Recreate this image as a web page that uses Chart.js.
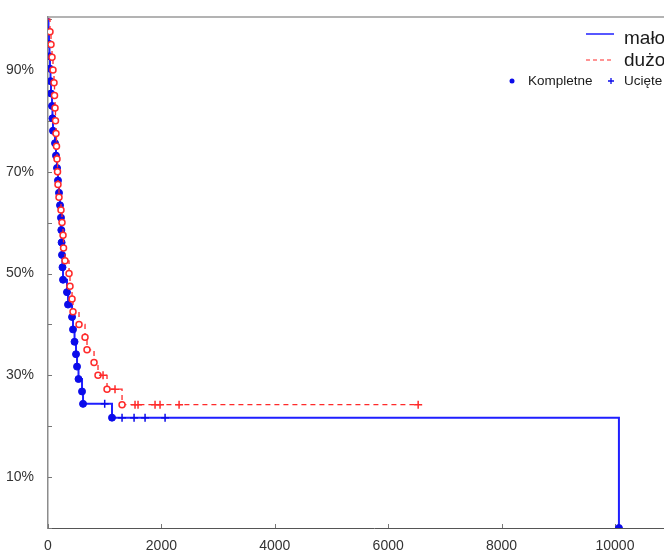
<!DOCTYPE html>
<html lang="pl">
<head>
<meta charset="utf-8">
<title>Krzywe przeżycia</title>
<script src="https://cdn.jsdelivr.net/npm/chart.js@4.4.1/dist/chart.umd.min.js"></script>
<style>
  html, body { margin: 0; padding: 0; background: #fff; overflow: hidden; }
  canvas { display: block; }
</style>
</head>
<body>
<canvas id="survChart" width="720" height="550"></canvas>
<script>
// --- Data ---
const xTicks = [0, 2000, 4000, 6000, 8000, 10000];
const yTicks = [0, 10, 20, 30, 40, 50, 60, 70, 80, 90, 100];

// kind: 0 = start of curve, 1 = complete observation, 2 = censored
const maloTime = [0, 9, 18, 26, 35, 44, 53, 71, 79, 88, 124, 141, 159, 176, 194, 212, 229, 235, 240, 247, 256,
  265, 335, 353, 424, 441, 468, 494, 512, 538, 600, 618, 1000, 1129, 1306, 1518, 1712, 2065, 10070];
const maloSurv = [100, 97.56, 95.12, 92.68, 90.24, 87.80, 85.37, 82.93, 80.49, 78.05, 75.61, 73.17, 70.73, 68.29,
  65.85, 63.41, 60.98, 58.54, 56.10, 53.66, 51.22, 48.78, 46.34, 43.90, 41.46, 39.02, 36.59, 34.15, 31.71, 29.27,
  26.83, 24.39, 24.39, 21.68, 21.68, 21.68, 21.68, 21.68, 0];
const maloKind = [0, 1, 1, 1, 1, 1, 1, 1, 1, 1, 1, 1, 1, 1, 1, 1, 1, 1, 1, 1, 1,
  1, 1, 1, 1, 1, 1, 1, 1, 1, 1, 1, 2, 1, 2, 2, 2, 2, 1];

const duzoTime = [0, 35, 53, 71, 88, 106, 115, 124, 132, 141, 150, 159, 168, 176, 194, 229, 247, 265, 274, 300,
  371, 388, 424, 441, 547, 653, 688, 812, 882, 971, 1041, 1182, 1306, 1535, 1588, 1888, 1976, 2312, 6529];
const duzoSurv = [100, 97.5, 95, 92.5, 90, 87.5, 85, 82.5, 80, 77.5, 75, 72.5, 70, 67.5, 65, 62.5, 60, 57.5, 55,
  52.5, 50, 47.5, 45, 42.5, 40, 37.5, 35, 32.5, 30, 30, 27.27, 27.27, 24.24, 24.24, 24.24, 24.24, 24.24, 24.24, 24.24];
const duzoKind = [0, 1, 1, 1, 1, 1, 1, 1, 1, 1, 1, 1, 1, 1, 1, 1, 1, 1, 1, 1,
  1, 1, 1, 1, 1, 1, 1, 1, 1, 2, 1, 2, 1, 2, 2, 2, 2, 2, 2];

const seriesNames = ['mało', 'dużo'];
const markNames = ['Kompletne', 'Ucięte'];

// --- Style ---
const FONT = "'Liberation Sans', Arial, sans-serif";
const BLUE = '#1f1fff';
const BLUE_DOT = '#0b0bea';
const RED = '#ff2a2a';

function toPoints(time, surv) {
    return time.map((t, i) => ({ x: t, y: surv[i] }));
}

// Frame: top border line and small inward tick marks
const framePlugin = {
    id: 'survFrame',
    beforeDatasetsDraw(chart) {
        const { ctx, chartArea: a, scales: { x, y } } = chart;
        ctx.save();
        ctx.strokeStyle = '#9a9a9a';
        ctx.lineWidth = 1.5;
        ctx.beginPath();
        ctx.moveTo(a.left, a.top);
        ctx.lineTo(a.right, a.top);
        ctx.stroke();

        ctx.strokeStyle = '#777';
        ctx.lineWidth = 1;
        ctx.beginPath();
        xTicks.forEach(v => {
            const px = Math.round(x.getPixelForValue(v)) + 0.5;
            ctx.moveTo(px, a.bottom);
            ctx.lineTo(px, a.bottom - 4);
        });
        yTicks.forEach(v => {
            const py = Math.round(y.getPixelForValue(v)) + 0.5;
            ctx.moveTo(a.left, py);
            ctx.lineTo(a.left + 4, py);
        });
        ctx.stroke();
        ctx.restore();
    }
};

// Legend in the upper right corner
const legendPlugin = {
    id: 'survLegend',
    afterDraw(chart) {
        const ctx = chart.ctx;
        ctx.save();

        ctx.strokeStyle = BLUE;
        ctx.lineWidth = 1.5;
        ctx.beginPath();
        ctx.moveTo(586, 34);
        ctx.lineTo(614, 34);
        ctx.stroke();

        ctx.strokeStyle = RED;
        ctx.lineWidth = 1.2;
        ctx.setLineDash([4, 3]);
        ctx.beginPath();
        ctx.moveTo(586, 60);
        ctx.lineTo(614, 60);
        ctx.stroke();
        ctx.setLineDash([]);

        ctx.fillStyle = '#1a1a1a';
        ctx.font = '19px ' + FONT;
        ctx.textBaseline = 'alphabetic';
        ctx.fillText(seriesNames[0], 624, 44);
        ctx.fillText(seriesNames[1], 624, 66);

        ctx.fillStyle = BLUE_DOT;
        ctx.beginPath();
        ctx.arc(512, 81, 2.5, 0, Math.PI * 2);
        ctx.fill();

        ctx.strokeStyle = BLUE_DOT;
        ctx.lineWidth = 1.3;
        ctx.beginPath();
        ctx.moveTo(611, 78);
        ctx.lineTo(611, 84);
        ctx.moveTo(608, 81);
        ctx.lineTo(614, 81);
        ctx.stroke();

        ctx.fillStyle = '#1a1a1a';
        ctx.font = '13.5px ' + FONT;
        ctx.textBaseline = 'middle';
        ctx.fillText(markNames[0], 528, 81);
        ctx.fillText(markNames[1], 624, 81);
        ctx.restore();
    }
};

// --- Chart ---
window.addEventListener('DOMContentLoaded', () => {
    new Chart(document.getElementById('survChart'), {
        type: 'line',
        data: {
            datasets: [
                {
                    label: seriesNames[0],
                    data: toPoints(maloTime, maloSurv),
                    order: 1,
                    stepped: true,
                    borderColor: BLUE,
                    borderWidth: 2,
                    pointStyle: maloKind.map(k => k === 2 ? 'cross' : 'circle'),
                    pointRadius: maloKind.map(k => k === 0 ? 0 : (k === 2 ? 4 : 3.5)),
                    pointBackgroundColor: BLUE_DOT,
                    pointBorderColor: BLUE_DOT,
                    pointBorderWidth: maloKind.map(k => k === 2 ? 1.5 : 1)
                },
                {
                    label: seriesNames[1],
                    data: toPoints(duzoTime, duzoSurv),
                    order: 0,
                    stepped: true,
                    borderColor: RED,
                    borderWidth: 1.3,
                    borderDash: [5, 4],
                    pointStyle: duzoKind.map(k => k === 2 ? 'cross' : 'circle'),
                    pointRadius: duzoKind.map(k => k === 0 ? 0 : (k === 2 ? 4 : 3)),
                    pointBackgroundColor: '#ffffff',
                    pointBorderColor: RED,
                    pointBorderWidth: 1.5
                }
            ]
        },
        options: {
            responsive: false,
            animation: false,
            layout: { padding: { left: 0, top: 17, right: 20, bottom: 0 } },
            plugins: {
                legend: { display: false },
                tooltip: { enabled: false }
            },
            scales: {
                x: {
                    type: 'linear',
                    min: 0,
                    max: 11500,
                    afterBuildTicks: s => { s.ticks = xTicks.map(v => ({ value: v })); },
                    afterFit: s => { s.height = 22; },
                    grid: { display: false },
                    border: { color: '#555', width: 1 },
                    ticks: {
                        padding: 2,
                        color: '#333',
                        maxRotation: 0,
                        autoSkip: false,
                        font: { family: FONT, size: 14 },
                        callback: v => String(v)
                    }
                },
                y: {
                    type: 'linear',
                    min: 0,
                    max: 100.4,
                    afterBuildTicks: s => { s.ticks = yTicks.map(v => ({ value: v })); },
                    afterFit: s => { s.width = 48; },
                    grid: { display: false },
                    border: { color: '#8c8c8c', width: 1.5 },
                    ticks: {
                        padding: 6,
                        color: '#333',
                        autoSkip: false,
                        font: { family: FONT, size: 14 },
                        callback: v => (v % 20 === 10 ? v + '%' : '')
                    }
                }
            }
        },
        plugins: [framePlugin, legendPlugin]
    });
});
</script>
</body>
</html>
